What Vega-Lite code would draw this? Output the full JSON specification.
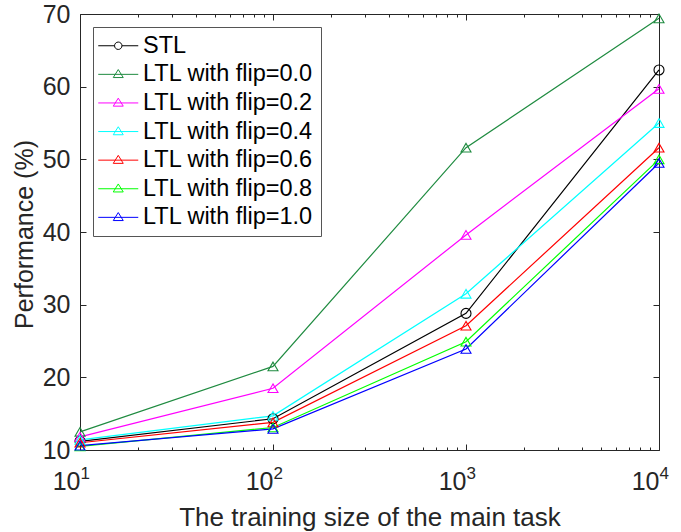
{
  "$schema": "https://vega.github.io/schema/vega-lite/v6.json",
  "width": 579,
  "height": 436,
  "autosize": {"type": "none"},
  "padding": {"left": 80, "top": 14, "right": 22, "bottom": 82},
  "background": "white",
  "config": {
    "view": {"stroke": null},
    "font": "Liberation Sans",
    "axis": {
      "grid": false,
      "domainColor": "#262626",
      "tickColor": "#262626",
      "labelColor": "#262626",
      "titleColor": "#262626",
      "labelFont": "Liberation Sans",
      "titleFont": "Liberation Sans",
      "titleFontWeight": "normal",
      "domainWidth": 1,
      "tickWidth": 1,
      "labelFlush": false,
      "labelOverlap": false
    }
  },
  "data": {
    "values": [
      {"n": 10, "perf": 11.2, "method": "STL"},
      {"n": 100, "perf": 14.3, "method": "STL"},
      {"n": 1000, "perf": 28.8, "method": "STL"},
      {"n": 10000, "perf": 62.3, "method": "STL"},
      {"n": 10, "perf": 12.5, "method": "LTL with flip=0.0"},
      {"n": 100, "perf": 21.5, "method": "LTL with flip=0.0"},
      {"n": 1000, "perf": 51.6, "method": "LTL with flip=0.0"},
      {"n": 10000, "perf": 69.4, "method": "LTL with flip=0.0"},
      {"n": 10, "perf": 11.8, "method": "LTL with flip=0.2"},
      {"n": 100, "perf": 18.5, "method": "LTL with flip=0.2"},
      {"n": 1000, "perf": 39.6, "method": "LTL with flip=0.2"},
      {"n": 10000, "perf": 59.7, "method": "LTL with flip=0.2"},
      {"n": 10, "perf": 11.4, "method": "LTL with flip=0.4"},
      {"n": 100, "perf": 14.7, "method": "LTL with flip=0.4"},
      {"n": 1000, "perf": 31.5, "method": "LTL with flip=0.4"},
      {"n": 10000, "perf": 55.0, "method": "LTL with flip=0.4"},
      {"n": 10, "perf": 11.0, "method": "LTL with flip=0.6"},
      {"n": 100, "perf": 13.8, "method": "LTL with flip=0.6"},
      {"n": 1000, "perf": 27.1, "method": "LTL with flip=0.6"},
      {"n": 10000, "perf": 51.6, "method": "LTL with flip=0.6"},
      {"n": 10, "perf": 10.5, "method": "LTL with flip=0.8"},
      {"n": 100, "perf": 13.1, "method": "LTL with flip=0.8"},
      {"n": 1000, "perf": 24.9, "method": "LTL with flip=0.8"},
      {"n": 10000, "perf": 50.0, "method": "LTL with flip=0.8"},
      {"n": 10, "perf": 10.6, "method": "LTL with flip=1.0"},
      {"n": 100, "perf": 12.9, "method": "LTL with flip=1.0"},
      {"n": 1000, "perf": 23.9, "method": "LTL with flip=1.0"},
      {"n": 10000, "perf": 49.5, "method": "LTL with flip=1.0"}
    ]
  },
  "layer": [
    {
      "mark": {"type": "line", "strokeWidth": 1.2},
      "encoding": {
        "x": {
          "field": "n", "type": "quantitative",
          "scale": {"type": "log", "domain": [10, 10000], "nice": false},
          "axis": {
            "orient": "bottom",
            "values": [10, 100, 1000, 10000],
            "labelExpr": "'10'",
            "labelAlign": "right",
            "labelDx": 6,
            "tickSize": -6,
            "labelPadding": 25,
            "labelFontSize": 25,
            "title": "The training size of the main task",
            "titleFontSize": 26,
            "titleBaseline": "alphabetic",
            "titleY": 75
          }
        },
        "y": {
          "field": "perf", "type": "quantitative",
          "scale": {"domain": [10, 70], "nice": false, "zero": false},
          "axis": {
            "orient": "left",
            "values": [10, 20, 30, 40, 50, 60, 70],
            "tickSize": -6,
            "labelPadding": 16,
            "labelFontSize": 25,
            "title": "Performance (%)",
            "titleFontSize": 25,
            "titleBaseline": "alphabetic",
            "titleX": -48,
            "titleY": 220
          }
        },
        "color": {
          "field": "method", "type": "nominal",
          "scale": {
            "domain": ["STL", "LTL with flip=0.0", "LTL with flip=0.2", "LTL with flip=0.4", "LTL with flip=0.6", "LTL with flip=0.8", "LTL with flip=1.0"],
            "range": ["#000000", "#1f8b40", "#ff00ff", "#00ffff", "#ff0000", "#00ff00", "#0000ff"]
          },
          "legend": null
        }
      }
    },
    {
      "mark": {"type": "point", "filled": false, "strokeWidth": 1.1, "size": 100, "opacity": 1},
      "encoding": {
        "x": {
          "field": "n", "type": "quantitative",
          "scale": {"type": "log", "domain": [10, 10000], "nice": false},
          "axis": {"orient": "top", "values": [10, 100, 1000, 10000], "labels": false, "tickSize": -6, "title": null}
        },
        "y": {
          "field": "perf", "type": "quantitative",
          "scale": {"domain": [10, 70], "nice": false, "zero": false},
          "axis": {"orient": "right", "values": [10, 20, 30, 40, 50, 60, 70], "labels": false, "tickSize": -6, "title": null}
        },
        "color": {
          "field": "method", "type": "nominal",
          "scale": {
            "domain": ["STL", "LTL with flip=0.0", "LTL with flip=0.2", "LTL with flip=0.4", "LTL with flip=0.6", "LTL with flip=0.8", "LTL with flip=1.0"],
            "range": ["#000000", "#1f8b40", "#ff00ff", "#00ffff", "#ff0000", "#00ff00", "#0000ff"]
          },
          "legend": null
        },
        "shape": {
          "field": "method", "type": "nominal",
          "scale": {
            "domain": ["STL", "LTL with flip=0.0", "LTL with flip=0.2", "LTL with flip=0.4", "LTL with flip=0.6", "LTL with flip=0.8", "LTL with flip=1.0"],
            "range": ["circle", "triangle-up", "triangle-up", "triangle-up", "triangle-up", "triangle-up", "triangle-up"]
          },
          "legend": null
        }
      }
    },
    {
      "transform": [{"filter": "false"}],
      "mark": {"type": "point", "filled": false, "strokeWidth": 1, "opacity": 1},
      "encoding": {
        "x": {
          "field": "n", "type": "quantitative",
          "scale": {"type": "log", "domain": [10, 10000], "nice": false},
          "axis": {"orient": "bottom", "values": [20, 30, 40, 50, 60, 70, 80, 90, 200, 300, 400, 500, 600, 700, 800, 900, 2000, 3000, 4000, 5000, 6000, 7000, 8000, 9000], "labels": false, "domain": false, "tickSize": -3, "title": null}
        },
        "color": {
          "field": "method", "type": "nominal",
          "scale": {
            "domain": ["STL", "LTL with flip=0.0", "LTL with flip=0.2", "LTL with flip=0.4", "LTL with flip=0.6", "LTL with flip=0.8", "LTL with flip=1.0"],
            "range": ["#000000", "#1f8b40", "#ff00ff", "#00ffff", "#ff0000", "#00ff00", "#0000ff"]
          },
          "legend": {
            "title": null,
            "orient": "top-left",
            "offset": 13,
            "padding": 7,
            "rowPadding": 3.6,
            "labelFontSize": 23.5,
            "labelFont": "Liberation Sans",
            "labelColor": "#000000",
            "labelLimit": 400,
            "labelOffset": 13,
            "symbolSize": 400,
            "symbolOffset": 6.5,
            "symbolStrokeWidth": 1,
            "strokeColor": "#555555",
            "fillColor": "#ffffff",
            "cornerRadius": 0
          }
        },
        "shape": {
          "field": "method", "type": "nominal",
          "scale": {
            "domain": ["STL", "LTL with flip=0.0", "LTL with flip=0.2", "LTL with flip=0.4", "LTL with flip=0.6", "LTL with flip=0.8", "LTL with flip=1.0"],
            "range": [
              "M-2,0H-0.37M0.37,0H2M0.37,0A0.37,0.37,0,1,1,-0.37,0A0.37,0.37,0,1,1,0.37,0Z",
              "M-2,0H2M0,-0.48L0.5,0.32L-0.5,0.32Z",
              "M-2,0H2M0,-0.48L0.5,0.32L-0.5,0.32Z",
              "M-2,0H2M0,-0.48L0.5,0.32L-0.5,0.32Z",
              "M-2,0H2M0,-0.48L0.5,0.32L-0.5,0.32Z",
              "M-2,0H2M0,-0.48L0.5,0.32L-0.5,0.32Z",
              "M-2,0H2M0,-0.48L0.5,0.32L-0.5,0.32Z"
            ]
          },
          "legend": {
            "title": null,
            "orient": "top-left",
            "offset": 13,
            "padding": 7,
            "rowPadding": 3.6,
            "labelFontSize": 23.5,
            "labelFont": "Liberation Sans",
            "labelColor": "#000000",
            "labelLimit": 400,
            "labelOffset": 13,
            "symbolSize": 400,
            "symbolOffset": 6.5,
            "symbolStrokeWidth": 1,
            "strokeColor": "#555555",
            "fillColor": "#ffffff",
            "cornerRadius": 0
          }
        }
      }
    },
    {
      "transform": [{"filter": "false"}],
      "mark": {"type": "point", "opacity": 1},
      "encoding": {
        "x": {
          "field": "n", "type": "quantitative",
          "scale": {"type": "log", "domain": [10, 10000], "nice": false},
          "axis": {"orient": "top", "values": [20, 30, 40, 50, 60, 70, 80, 90, 200, 300, 400, 500, 600, 700, 800, 900, 2000, 3000, 4000, 5000, 6000, 7000, 8000, 9000], "labels": false, "domain": false, "tickSize": -3, "title": null}
        }
      }
    },
    {
      "transform": [{"filter": "false"}],
      "mark": {"type": "point", "opacity": 1},
      "encoding": {
        "x": {
          "field": "n", "type": "quantitative",
          "scale": {"type": "log", "domain": [10, 10000], "nice": false},
          "axis": {
            "orient": "bottom",
            "values": [10, 100, 1000, 10000],
            "labelExpr": "datum.value == 10 ? '1' : datum.value == 100 ? '2' : datum.value == 1000 ? '3' : '4'",
            "labelAlign": "left",
            "labelDx": 7,
            "labelFontSize": 17,
            "labelPadding": 15,
            "ticks": false,
            "domain": false,
            "title": null
          }
        }
      }
    }
  ],
  "resolve": {
    "scale": {"color": "independent", "shape": "independent"},
    "axis": {"x": "independent", "y": "independent"}
  }
}
